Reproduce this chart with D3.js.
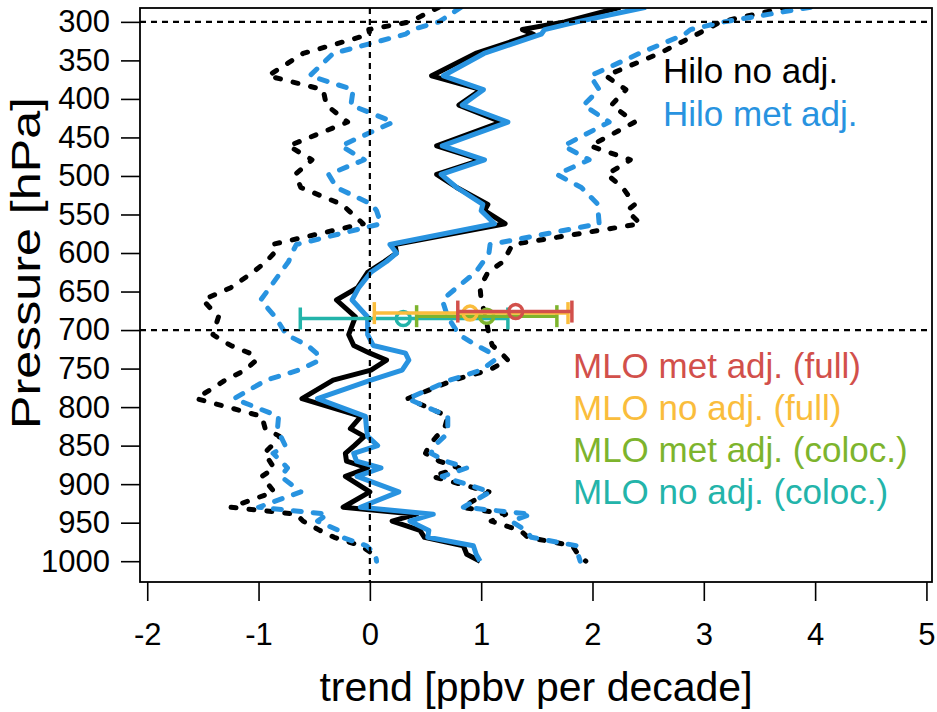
<!DOCTYPE html>
<html>
<head>
<meta charset="utf-8">
<script src="https://cdn.jsdelivr.net/npm/d3@7"></script>
<style>
body { margin: 0; background: #fff; }
svg { font-family: "Liberation Sans", Arial, sans-serif; }
</style>
</head>
<body>
<script>
// Pressure levels of the Hilo ozonesonde trend profiles [hPa]
var pressure = [281, 300, 310, 316, 341, 370, 388, 408, 430, 461, 479, 498, 515, 537, 545, 562, 589, 600, 611, 625, 645, 661, 683, 706, 720, 730, 739, 752, 765, 789, 812, 828, 838, 850, 860, 870, 879, 890, 910, 930, 939, 948, 960, 969, 980, 991, 1000];

// Hilo no adj. : trend and lower / upper bounds [ppbv per decade]
var hiloNoAdj = [2.25, 1.75, 1.37, 1.47, 0.95, 0.555, 1.0, 0.80, 1.18, 0.60, 1.0, 0.60, 0.78, 1.06, 1.03, 1.215, 0.225, 0.24, 0.13, -0.02, -0.11, -0.30, -0.13, -0.19, -0.145, 0.0, 0.15, 0.01, -0.33, -0.61, -0.08, -0.175, -0.05, -0.14, -0.22, -0.21, -0.02, -0.22, 0.0, -0.24, 0.42, 0.2, 0.45, 0.49, 0.84, 0.87, 0.99];
var hiloNoAdjLow = [0.62, 0.36, -0.01, 0.0, -0.6, -0.915, -0.42, -0.39, -0.2, -0.73, -0.52, -0.67, -0.62, -0.25, -0.19, -0.06, -0.88, -0.86, -0.93, -1.05, -1.25, -1.5, -1.36, -1.41, -1.25, -1.08, -1.02, -1.12, -1.3, -1.56, -0.97, -0.94, -0.81, -0.88, -0.95, -0.9, -0.86, -0.97, -0.86, -1.25, -0.66, -0.6, -0.45, -0.32, -0.08, 0.03, 0.05];
var hiloNoAdjHigh = [3.75, 3.15, 3.02, 2.94, 2.6, 2.12, 2.30, 2.17, 2.38, 1.98, 2.34, 2.13, 2.27, 2.38, 2.31, 2.43, 1.28, 1.24, 1.2, 1.06, 0.99, 1.0, 1.04, 1.07, 1.1, 1.18, 1.24, 1.07, 0.75, 0.34, 0.70, 0.67, 0.6, 0.53, 0.5, 0.62, 0.8, 0.56, 1.07, 0.83, 1.22, 1.09, 1.35, 1.42, 1.82, 1.87, 1.94];

// Hilo met adj. : trend and lower / upper bounds
var hiloMetAdj = [2.48, 1.86, 1.57, 1.54, 1.025, 0.66, 1.02, 0.83, 1.24, 0.65, 1.03, 0.64, 0.78, 1.015, 1.0, 1.12, 0.18, 0.24, 0.15, 0.01, -0.10, -0.16, -0.02, -0.02, 0.03, 0.32, 0.35, 0.29, 0.01, -0.47, -0.04, -0.03, -0.02, 0.07, -0.145, -0.12, 0.10, -0.115, 0.26, -0.085, 0.57, 0.36, 0.53, 0.52, 0.93, 0.955, 0.99];
var hiloMetAdjLow = [0.82, 0.62, 0.38, 0.32, -0.33, -0.54, -0.15, -0.17, 0.21, -0.26, -0.05, -0.37, -0.3, 0.02, 0.06, 0.1, -0.66, -0.70, -0.73, -0.8, -0.9, -0.98, -0.85, -0.75, -0.56, -0.48, -0.45, -0.64, -0.93, -1.22, -0.82, -0.83, -0.8, -0.76, -0.87, -0.8, -0.74, -0.8, -0.62, -1.0, -0.38, -0.47, -0.28, -0.25, -0.03, 0.05, 0.06];
var hiloMetAdjHigh = [3.96, 3.18, 2.88, 2.83, 2.42, 1.98, 2.06, 1.92, 2.15, 1.74, 1.97, 1.68, 1.9, 2.05, 2.05, 2.06, 1.08, 1.07, 1.02, 0.95, 0.78, 0.65, 0.70, 0.80, 0.96, 1.09, 1.12, 1.0, 0.72, 0.34, 0.70, 0.70, 0.67, 0.58, 0.55, 0.68, 0.87, 0.65, 1.08, 0.84, 1.45, 1.27, 1.40, 1.45, 1.86, 1.87, 1.89];

// MLO surface trends with confidence intervals
var mloLabels = ["MLO met adj. (full)", "MLO no adj. (full)", "MLO met adj. (coloc.)", "MLO no adj. (coloc.)"];
var mloPressure = [676, 678, 682, 685];
var mloTrend = [1.31, 0.90, 1.05, 0.30];
var mloLow = [0.79, 0.04, 0.42, -0.625];
var mloHigh = [1.815, 1.78, 1.68, 1.24];
var mloColors = ["#d2504b", "#fabd3c", "#7db42d", "#23b4aa"];

// Axis ticks and reference lines
var xTicks = [-2, -1, 0, 1, 2, 3, 4, 5];
var yTicks = [300, 350, 400, 450, 500, 550, 600, 650, 700, 750, 800, 850, 900, 950, 1000];
var refPressure = [300, 700];
var refTrend = [0];

var hiloLabels = ["Hilo no adj.", "Hilo met adj."];
var hiloColors = ["#000000", "#2893e0"];

var width = 937,
    height = 712;

var svg = d3.select("body")
    .append("svg")
    .attr("width", width)
    .attr("height", height);

// Plot frame (named to avoid window.top)
var frame = { left: 140, right: 932, top: 8, bottom: 582 };

var x = d3.scaleLinear()
    .domain([-2.065, 5.05])
    .range([frame.left, frame.right]);

var y = d3.scaleLinear()
    .domain([282, 1027])
    .range([frame.top, frame.bottom]);

svg.append("clipPath")
    .attr("id", "plotClip")
    .append("rect")
    .attr("x", frame.left)
    .attr("y", frame.top)
    .attr("width", frame.right - frame.left)
    .attr("height", frame.bottom - frame.top);

var plot = svg.append("g")
    .attr("clip-path", "url(#plotClip)");

function profile(values) {
    return pressure.map(function(p, i) { return [p, values[i]]; });
}

var line = d3.line()
    .x(function(d) { return x(d[1]); })
    .y(function(d) { return y(d[0]); });

// Confidence bounds: black dotted, blue dashed
[hiloNoAdjLow, hiloNoAdjHigh].forEach(function(v) {
    plot.append("path")
        .datum(profile(v))
        .attr("d", line)
        .attr("fill", "none")
        .attr("stroke", hiloColors[0])
        .attr("stroke-width", 5)
        .attr("stroke-linecap", "round")
        .attr("stroke-linejoin", "round")
        .attr("stroke-dasharray", "5,13");
});
[hiloMetAdjLow, hiloMetAdjHigh].forEach(function(v) {
    plot.append("path")
        .datum(profile(v))
        .attr("d", line)
        .attr("fill", "none")
        .attr("stroke", hiloColors[1])
        .attr("stroke-width", 5)
        .attr("stroke-linecap", "round")
        .attr("stroke-linejoin", "round")
        .attr("stroke-dasharray", "8,12");
});

// Trend profiles
[hiloNoAdj, hiloMetAdj].forEach(function(v, i) {
    plot.append("path")
        .datum(profile(v))
        .attr("d", line)
        .attr("fill", "none")
        .attr("stroke", hiloColors[i])
        .attr("stroke-width", 5)
        .attr("stroke-linejoin", "round");
});

// Reference lines
plot.selectAll(".hline")
    .data(refPressure)
    .enter()
    .append("line")
    .attr("x1", frame.left).attr("x2", frame.right)
    .attr("y1", function(d) { return y(d); })
    .attr("y2", function(d) { return y(d); })
    .attr("stroke", "#000")
    .attr("stroke-width", 2.2)
    .attr("stroke-dasharray", "6,5");

plot.selectAll(".vline")
    .data(refTrend)
    .enter()
    .append("line")
    .attr("x1", function(d) { return x(d); })
    .attr("x2", function(d) { return x(d); })
    .attr("y1", frame.top).attr("y2", frame.bottom)
    .attr("stroke", "#000")
    .attr("stroke-width", 2.2)
    .attr("stroke-dasharray", "6,5");

// MLO error bars, drawn bottom entry first
var order = [3, 2, 1, 0];
order.forEach(function(i) {
    var g = plot.append("g")
        .attr("stroke", mloColors[i])
        .attr("stroke-width", 3.5)
        .attr("fill", "none");
    var py = y(mloPressure[i]);
    g.append("line")
        .attr("x1", x(mloLow[i])).attr("x2", x(mloHigh[i]))
        .attr("y1", py).attr("y2", py);
    [mloLow[i], mloHigh[i]].forEach(function(v) {
        g.append("line")
            .attr("x1", x(v)).attr("x2", x(v))
            .attr("y1", py - 11).attr("y2", py + 11);
    });
    g.append("circle")
        .attr("cx", x(mloTrend[i]))
        .attr("cy", py)
        .attr("r", 7);
});

// Axes
var xAxis = svg.append("g")
    .attr("transform", "translate(0," + frame.bottom + ")")
    .call(d3.axisBottom(x).tickValues(xTicks).tickSize(19).tickPadding(22)
        .tickFormat(d3.format("d")));

var yAxis = svg.append("g")
    .attr("transform", "translate(" + frame.left + ",0)")
    .call(d3.axisLeft(y).tickValues(yTicks).tickSize(19).tickPadding(11)
        .tickFormat(d3.format("d")));

// R style minus sign is a plain hyphen
xAxis.selectAll("text").text(function(d) { return String(d); });

[xAxis, yAxis].forEach(function(a) {
    a.select(".domain").remove();
    a.selectAll("line").attr("stroke", "#000").attr("stroke-width", 1.6);
    a.selectAll("text")
        .attr("fill", "#000")
        .style("font-size", "31px")
        .style("font-family", "'Liberation Sans', Arial, sans-serif");
});

// Box around the plot
svg.append("rect")
    .attr("x", frame.left)
    .attr("y", frame.top)
    .attr("width", frame.right - frame.left)
    .attr("height", frame.bottom - frame.top)
    .attr("fill", "none")
    .attr("stroke", "#000")
    .attr("stroke-width", 1.8);

// Axis titles
svg.append("text")
    .attr("x", (frame.left + frame.right) / 2)
    .attr("y", 701)
    .attr("text-anchor", "middle")
    .style("font-size", "41px")
    .text("trend [ppbv per decade]");

svg.append("text")
    .attr("transform", "translate(40,263) rotate(-90)")
    .attr("text-anchor", "middle")
    .attr("textLength", 332)
    .attr("lengthAdjust", "spacingAndGlyphs")
    .style("font-size", "41px")
    .text("Pressure [hPa]");

// Legends
svg.selectAll(".hiloLegend")
    .data(hiloLabels)
    .enter()
    .append("text")
    .attr("x", 663)
    .attr("y", function(d, i) { return 83 + i * 43; })
    .attr("fill", function(d, i) { return hiloColors[i]; })
    .style("font-size", "35px")
    .text(function(d) { return d; });

svg.selectAll(".mloLegend")
    .data(mloLabels)
    .enter()
    .append("text")
    .attr("x", 573)
    .attr("y", function(d, i) { return 378 + i * 42; })
    .attr("fill", function(d, i) { return mloColors[i]; })
    .style("font-size", "35px")
    .text(function(d) { return d; });
</script>
</body>
</html>
